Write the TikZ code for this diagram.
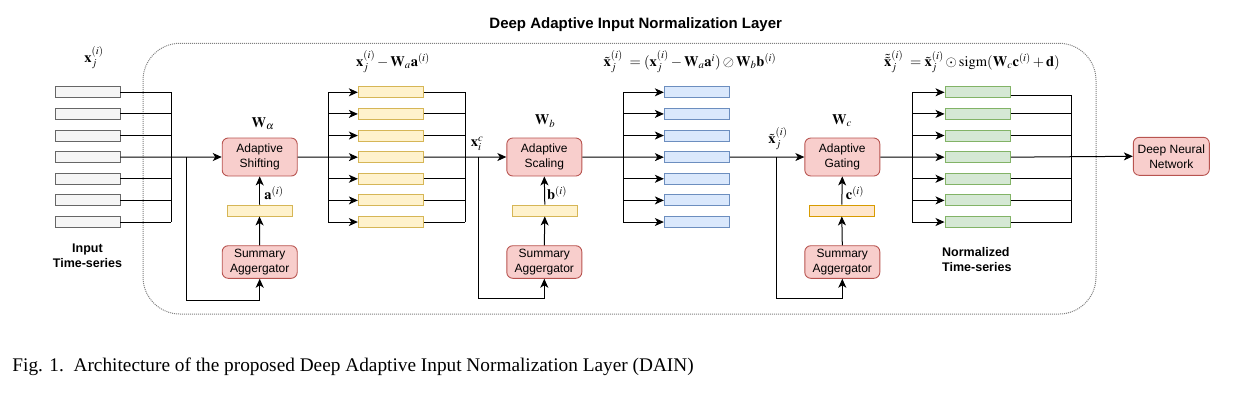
\documentclass[tikz,border=0pt]{standalone}
\usepackage{mathptmx}
\usepackage{fontspec}
\setmainfont{Liberation Serif}
\setsansfont{Liberation Sans}
\usetikzlibrary{arrows.meta,calc}
\definecolor{grayf}{HTML}{F5F5F5}\definecolor{grayd}{HTML}{666666}
\definecolor{yelf}{HTML}{FFF2CC}\definecolor{yeld}{HTML}{D6B656}
\definecolor{bluf}{HTML}{DAE8FC}\definecolor{blud}{HTML}{6C8EBF}
\definecolor{grnf}{HTML}{D5E8D4}\definecolor{grnd}{HTML}{82B366}
\definecolor{redf}{HTML}{F8CECC}\definecolor{redd}{HTML}{B85450}
\definecolor{orgf}{HTML}{FFE6CC}\definecolor{orgd}{HTML}{D79B00}
\begin{document}
\begin{tikzpicture}[x=1pt,y=-1pt,
  line width=1pt,
  arr/.style={-{Stealth[length=9pt,width=8pt,inset=2.5pt]}},
  bar/.style={draw, minimum width=65pt, minimum height=11pt, inner sep=0pt, line width=0.9pt},
  graybar/.style={bar, fill=grayf, draw=grayd},
  yelbar/.style={bar, fill=yelf, draw=yeld},
  blubar/.style={bar, fill=bluf, draw=blud},
  grnbar/.style={bar, fill=grnf, draw=grnd},
  orgbar/.style={bar, fill=orgf, draw=orgd},
  opbox/.style={draw=redd, fill=redf, rounded corners=6pt, minimum width=75pt, minimum height=38pt, inner sep=0pt, align=center, line width=0.9pt, font=\sffamily\fontsize{12}{15}\selectfont},
  sumbox/.style={opbox, minimum height=32.6pt},
  lbl/.style={font=\sffamily\bfseries\fontsize{12.5}{15}\selectfont, align=center, inner sep=0pt},
  mth/.style={inner sep=0pt, font=\fontsize{14.5}{16}\selectfont}
]
\useasboundingbox (0,0) rectangle (1241,402);

% container
\node[draw=gray, dash pattern=on 1pt off 1pt, rounded corners=37pt, minimum width=953pt, minimum height=270.7pt, inner sep=0pt] (cont) at (619.5,178.65) {};
\node[font=\sffamily\bfseries\fontsize{15}{17}\selectfont, inner sep=0pt] (title) at (635.7,25) {Deep Adaptive Input Normalization Layer};

% bars
\foreach \k in {1,...,7}{
  \pgfmathsetmacro{\yy}{92.3+(\k-1)*21.62}
  \node[graybar] (in\k) at (87.5,\yy) {};
  \node[yelbar] (yb\k) at (390.8,\yy) {};
  \node[blubar] (bb\k) at (696.8,\yy) {};
  \node[grnbar, minimum width=65.7pt] (gb\k) at (977.8,\yy) {};
}

% operator boxes
\node[opbox] (shift) at (259.7,157) {Adaptive\\Shifting};
\node[opbox] (scale) at (544.3,157) {Adaptive\\Scaling};
\node[opbox] (gate) at (842.3,157) {Adaptive\\Gating};
\node[opbox, minimum width=76pt] (dnn) at (1171.3,156.3) {Deep Neural\\Network};

\node[yelbar] (abar) at (259.5,210.5) {};
\node[yelbar] (bbar) at (544.8,210.5) {};
\node[orgbar] (cbar) at (841.8,210.5) {};

\node[sumbox] (sum1) at (259.7,262) {Summary\\Aggergator};
\node[sumbox] (sum2) at (544.3,262) {Summary\\Aggergator};
\node[sumbox] (sum3) at (842.3,262) {Summary\\Aggergator};

% bus coordinates
\coordinate (bus1) at (171,157);
\coordinate (br1) at (186.3,157);
\coordinate (low1) at (186.3,300);
\coordinate (bus2) at (328.3,157);
\coordinate (bus3) at (465.3,157);
\coordinate (br2) at (478.3,157);
\coordinate (low2) at (478.3,298.3);
\coordinate (bus4) at (623,157);
\coordinate (br3) at (776.7,157);
\coordinate (low3) at (776.7,298.3);
\coordinate (bus5) at (912.3,157);
\coordinate (bus6) at (1071.7,157);

% stage 1
\foreach \k in {1,2,3,5,6,7}{
  \draw (in\k.east) -- (in\k.east -| bus1);
}
\draw (in1.east -| bus1) -- (in7.east -| bus1);
\draw[arr] (in4.east) -- (shift.west);
\draw[arr] (br1) -- (low1) -| (sum1.south);
\draw[arr] (sum1.north) -- (abar.south);
\draw[arr] (abar.north) -- (shift.north |- abar.north) -- (shift.south);

% stage 2
\draw (yb1.west -| bus2) -- (yb7.west -| bus2);
\foreach \k in {1,2,3,5,6,7}{
  \draw[arr] (yb\k.west -| bus2) -- (yb\k.west);
  \draw (yb\k.east) -- (yb\k.east -| bus3);
}
\draw[arr] (shift.east) -- (yb4.west);
\draw (yb1.east -| bus3) -- (yb7.east -| bus3);
\draw[arr] (yb4.east) -- (scale.west);
\draw[arr] (br2) -- (low2) -| (sum2.south);
\draw[arr] (sum2.north) -- (bbar.south);
\draw[arr] (bbar.north) -- (scale.south);

% stage 3
\draw (bb1.west -| bus4) -- (bb7.west -| bus4);
\foreach \k in {1,2,3,5,6,7}{
  \draw[arr] (bb\k.west -| bus4) -- (bb\k.west);
}
\draw[arr] (scale.east) -- (bb4.west);
\draw[arr] (bb4.east) -- (gate.west);
\draw[arr] (br3) -- (low3) -| (sum3.south);
\draw[arr] (sum3.north) -- (cbar.south);
\draw[arr] (cbar.north) -- (gate.south);

% stage 4
\draw (bb1.west -| bus5) -- (gb7.west -| bus5);
\foreach \k in {1,2,3,5,6,7}{
  \draw[arr] (gb\k.west -| bus5) -- (gb\k.west);
}
\draw[arr] (gate.east) -- (gb4.west);
\draw ($(gb1.east)+(0,3.4)$) -- ($(gb1.east -| bus6)+(0,3.4)$);
\foreach \k in {2,3,5,6,7}{
  \draw (gb\k.east) -- (gb\k.east -| bus6);
}
\draw ($(gb1.east -| bus6)+(0,3.4)$) -- (gb7.east -| bus6);
\draw[arr] (gb4.east) -- (dnn.west);

% labels
\node[lbl] (inlbl) at (87.5,255.5) {Input\\Time-series};
\node[lbl, align=left, anchor=west] (normlbl) at (941.7,259.3) {Normalized\\Time-series};

\node[mth] (m0) at (94,58) {$\mathbf{x}_j^{(i)}$};
\node[mth] (m1) at (393,62) {$\mathbf{x}_j^{(i)}-\mathbf{W}_a\mathbf{a}^{(i)}$};
\node[mth] (m2) at (690,62) {$\tilde{\mathbf{x}}_j^{(i)}\ =(\mathbf{x}_j^{(i)}-\mathbf{W}_a\mathbf{a}^{i})\oslash\mathbf{W}_b\mathbf{b}^{(i)}$};
\node[mth] (m3) at (972,62) {$\tilde{\tilde{\mathbf{x}}}_j^{(i)}\ =\tilde{\mathbf{x}}_j^{(i)}\odot\mathrm{sigm}(\mathbf{W}_c\mathbf{c}^{(i)}+\mathbf{d})$};
\node[mth] (wa) at (263,124) {$\mathbf{W}_\alpha$};
\node[mth] (wb) at (545,121) {$\mathbf{W}_b$};
\node[mth] (wc) at (842,121) {$\mathbf{W}_c$};
\node[mth] (la) at (274,193) {$\mathbf{a}^{(i)}$};
\node[mth] (lb) at (557,193) {$\mathbf{b}^{(i)}$};
\node[mth] (lc) at (855,193) {$\mathbf{c}^{(i)}$};
\node[mth] (lxc) at (477,144) {$\mathbf{x}_i^c$};
\node[mth] (lxt) at (778,139) {$\tilde{\mathbf{x}}_j^{(i)}$};

% caption
\node[anchor=base west, inner sep=0pt, font=\fontsize{19.3}{22}\selectfont] (cap) at (12,371.5) {Fig. 1.\ \ Architecture of the proposed Deep Adaptive Input Normalization Layer (DAIN)};
\end{tikzpicture}
\end{document}
